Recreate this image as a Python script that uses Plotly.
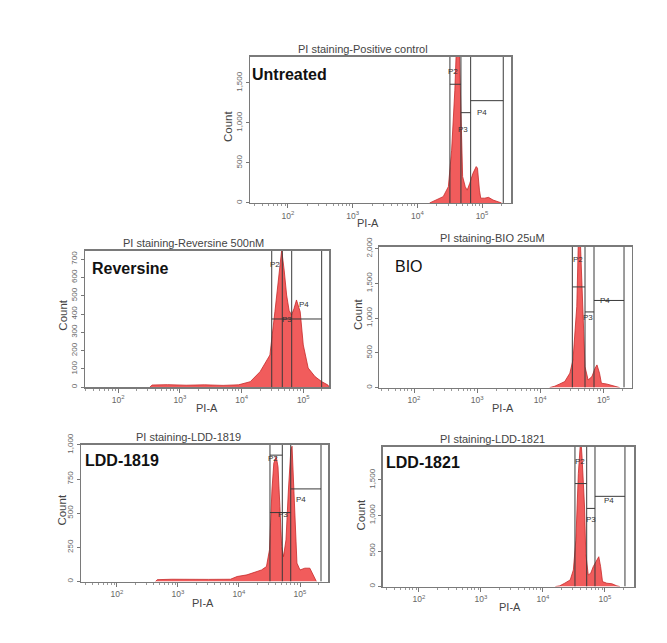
import plotly.graph_objects as go

W, H = 667, 643

# ---------------- data ----------------
titles = ["PI staining-Positive control", "PI staining-Reversine 500nM", "PI staining-BIO 25uM",
          "PI staining-LDD-1819", "PI staining-LDD-1821"]
labels = ["Untreated", "Reversine", "BIO", "LDD-1819", "LDD-1821"]
label_bold = [True, True, False, True, True]

untreated_pia = [15500, 19950, 25100, 30200, 33900, 38000, 41700, 44700, 46800, 50100, 55000, 58900,
                 64600, 72400, 81300, 85100, 91200, 95500, 110000, 126000, 148000, 178000, 200000]
untreated_count = [0, 37, 79, 204, 660, 1410, 2300, 1900, 1080, 330, 204, 160,
                   245, 370, 455, 435, 160, 60, 60, 70, 37, 10, 0]

reversine_pia = [324, 355, 631, 1260, 2510, 5010, 8910, 13800, 19950, 28800, 34700, 39800, 44700,
                 49000, 53700, 58900, 64600, 70800, 77600, 89100, 100000, 120000, 155000, 200000,
                 251000, 263000]
reversine_count = [0, 12, 14, 11, 13, 10, 13, 30, 85, 176, 413, 620, 750,
                   640, 504, 420, 395, 430, 477, 413, 231, 105, 58, 30, 12, 0]

bio_pia = [14100, 17000, 20400, 24500, 29500, 33100, 38000, 40700, 43600, 46800, 51300, 57500,
           66100, 74100, 79400, 87100, 93300, 112000, 145000, 182000]
bio_count = [0, 20, 53, 87, 208, 400, 1170, 2300, 2030, 1170, 300, 110,
             160, 280, 327, 208, 63, 53, 25, 0]

ldd1819_pia = [427, 457, 794, 1580, 3160, 7240, 9330, 13500, 19500, 23400, 28200, 31600, 34700,
               37200, 40700, 43600, 46800, 50100, 53700, 58900, 64600, 70800, 74100, 81300,
               89100, 100000, 120000, 145000, 158000, 178000, 186000]
ldd1819_count = [0, 14, 17, 15, 16, 17, 37, 49, 73, 85, 110, 232, 670,
                 866, 915, 840, 550, 256, 183, 305, 670, 963, 990, 550,
                 135, 85, 98, 98, 61, 12, 0]

ldd1821_pia = [15800, 18600, 22400, 27500, 30900, 33900, 37200, 40700, 42700, 46800, 49000, 53700,
               58900, 64600, 74100, 79400, 85100, 91200, 107000, 129000, 155000, 174000]
ldd1821_count = [0, 10, 47, 94, 234, 654, 1590, 2100, 1820, 1120, 468, 164,
                 188, 280, 374, 420, 280, 70, 47, 40, 10, 0]

series_pia = [untreated_pia, reversine_pia, bio_pia, ldd1819_pia, ldd1821_pia]
series_count = [untreated_count, reversine_count, bio_count, ldd1819_count, ldd1821_count]

# gate boundaries (PI-A) : P2 left, P2/P3, P3/P4, P4 right
gate_edges = [
    [31900, 47200, 66700, 213000],
    [30800, 45700, 64900, 198700],
    [32300, 51300, 71200, 213000],
    [32200, 51300, 70500, 221000],
    [32800, 50700, 69000, 210000],
]
# horizontal gate bars: (x0, x1, count)
gate_bars = [
    [(31900, 47200, 1484), (47200, 66700, 1129), (66700, 213000, 1279)],
    [(30800, 198700, 373)],
    [(32300, 51300, 1450), (51300, 71200, 1090), (71200, 213000, 1255)],
    [(32200, 51300, 925), (32200, 70500, 505), (70500, 221000, 678)],
    [(32800, 50700, 1450), (50700, 69000, 1100), (69000, 210000, 1270)],
]

count_max = [1825, 745, 2030, 1000, 1970]
y_tickvals = [[0, 500, 1000, 1500], [0, 100, 200, 300, 400, 500, 600, 700],
              [0, 500, 1000, 1500, 2000], [0, 250, 500, 750, 1000], [0, 500, 1000, 1500]]
y_ticktext = [["0", "500", "1,000", "1,500"], ["0", "100", "200", "300", "400", "500", "600", "700"],
              ["0", "500", "1,000", "1,500", "2,000"], ["0", "250", "500", "750", "1,000"],
              ["0", "500", "1,000", "1,500"]]
x_tickvals = [100, 1000, 10000, 100000]
x_ticktext = ["10<sup>2</sup>", "10<sup>3</sup>", "10<sup>4</sup>", "10<sup>5</sup>"]

# ---------------- layout geometry (target pixels) ----------------
boxes = [  # left, top, right, bottom
    (250, 57, 511, 203),
    (85, 251, 329, 387.3),
    (379.3, 246.7, 631.7, 387.7),
    (81, 445, 328.3, 581.7),
    (382.7, 446.7, 634, 586.7),
]
x_ranges = [(1.413, 5.448), (1.462, 5.417), (1.45, 5.45), (1.41, 5.464), (1.415, 5.468)]
title_pos = [(363, 49), (193, 243), (493, 238), (188, 437), (492, 439)]
label_pos = [(249.5, 74.5), (89.5, 269), (393, 267), (83, 461), (383.5, 463)]
count_pos = [(228, 127), (62.7, 315), (358, 315), (61.7, 510), (360.7, 515)]
pia_pos = [(368, 223), (206.7, 408), (503.3, 408), (203, 603), (510, 607)]
gate_label_pos = [
    [(453, 71.7), (463, 130), (481.7, 113)],
    [(275, 265), (286.7, 320), (304, 304.3)],
    [(578.3, 259.3), (588.3, 317.3), (605, 300.7)],
    [(273.3, 459), (283.3, 515), (300.7, 499.3)],
    [(580, 461.7), (590.7, 519.3), (609.3, 501)],
]

FONT = "Arial, Liberation Sans, sans-serif"


def px(x):
    return x / W


def py(y):
    # compensate the vertical offset/compression observed in the rendered page
    y = (y - 12) / 0.98
    return 1 - y / H


minor_x = [m * 10 ** d for d in range(1, 6) for m in range(2, 10)]

fig = go.Figure()
layout = dict(width=W, height=H, margin=dict(l=0, r=0, t=0, b=0),
              paper_bgcolor="white", plot_bgcolor="white", showlegend=False,
              font=dict(family=FONT))
annotations = []
shapes = []

for i in range(5):
    k = "" if i == 0 else str(i + 1)
    xa, ya = "x" + k, "y" + k
    L, T, R, B = boxes[i]
    fig.add_trace(go.Scatter(
        x=series_pia[i], y=series_count[i], mode="lines", fill="tozeroy",
        fillcolor="rgba(240,78,78,0.92)", line=dict(color="#C62828", width=0.8),
        xaxis=xa, yaxis=ya, hoverinfo="skip"))
    layout["xaxis" + k] = dict(
        domain=[px(L), px(R)], anchor=ya, type="log", range=list(x_ranges[i]),
        tickvals=x_tickvals, ticktext=x_ticktext, ticks="outside", ticklen=4, tickwidth=1,
        tickcolor="#777", tickfont=dict(size=8.5, color="#666", family=FONT),
        minor=dict(tickvals=minor_x, ticks="outside", ticklen=2, tickcolor="#999", showgrid=False),
        showgrid=False, zeroline=False, showline=True, mirror=True, linecolor="#7a7a7a",
        linewidth=1.5, fixedrange=True)
    layout["yaxis" + k] = dict(
        domain=[py(B), py(T)], anchor=xa, range=[0, count_max[i]],
        tickvals=y_tickvals[i], ticktext=y_ticktext[i], tickangle=-90, ticks="outside",
        ticklen=3, tickcolor="#777", tickfont=dict(size=8, color="#666", family=FONT),
        showgrid=False, zeroline=False, showline=True, mirror=True, linecolor="#7a7a7a",
        linewidth=1.5, fixedrange=True)

    # gates
    for e in gate_edges[i]:
        shapes.append(dict(type="line", xref=xa, yref=ya, x0=e, x1=e, y0=0, y1=count_max[i],
                           line=dict(color="#3a3a3a", width=1)))
    for (x0, x1, c) in gate_bars[i]:
        shapes.append(dict(type="line", xref=xa, yref=ya, x0=x0, x1=x1, y0=c, y1=c,
                           line=dict(color="#3a3a3a", width=1)))
    for name, (gx, gy) in zip(["P2", "P3", "P4"], gate_label_pos[i]):
        annotations.append(dict(text=name, x=px(gx), y=py(gy), xref="paper", yref="paper",
                                showarrow=False, font=dict(size=8, color="#333", family=FONT),
                                xanchor="center", yanchor="middle"))
    # texts
    tx, ty = title_pos[i]
    annotations.append(dict(text=titles[i], x=px(tx), y=py(ty), xref="paper", yref="paper",
                            showarrow=False, font=dict(size=11, color="#444", family=FONT),
                            xanchor="center", yanchor="middle"))
    lx, ly = label_pos[i]
    txt = "<b>%s</b>" % labels[i] if label_bold[i] else labels[i]
    annotations.append(dict(text=txt, x=px(lx), y=py(ly), xref="paper", yref="paper",
                            showarrow=False, font=dict(size=16, color="#111", family=FONT),
                            xanchor="left", yanchor="middle"))
    cx, cy = count_pos[i]
    annotations.append(dict(text="Count", x=px(cx), y=py(cy), xref="paper", yref="paper",
                            showarrow=False, textangle=-90,
                            font=dict(size=11.5, color="#444", family=FONT),
                            xanchor="center", yanchor="middle"))
    ax, ay = pia_pos[i]
    annotations.append(dict(text="PI-A", x=px(ax), y=py(ay), xref="paper", yref="paper",
                            showarrow=False, font=dict(size=11, color="#444", family=FONT),
                            xanchor="center", yanchor="middle"))

layout["annotations"] = annotations
layout["shapes"] = shapes
fig.update_layout(**layout)
fig.write_html(
    "out.html",
    config={"displayModeBar": False, "staticPlot": True},
    post_script=("var gd=document.getElementById('{plot_id}');"
                 "document.documentElement.style.margin='0';document.body.style.margin='0';"
                 "document.body.style.padding='0';document.body.style.overflow='hidden';"
                 "gd.style.position='fixed';gd.style.left='0px';gd.style.top='0px';"))
